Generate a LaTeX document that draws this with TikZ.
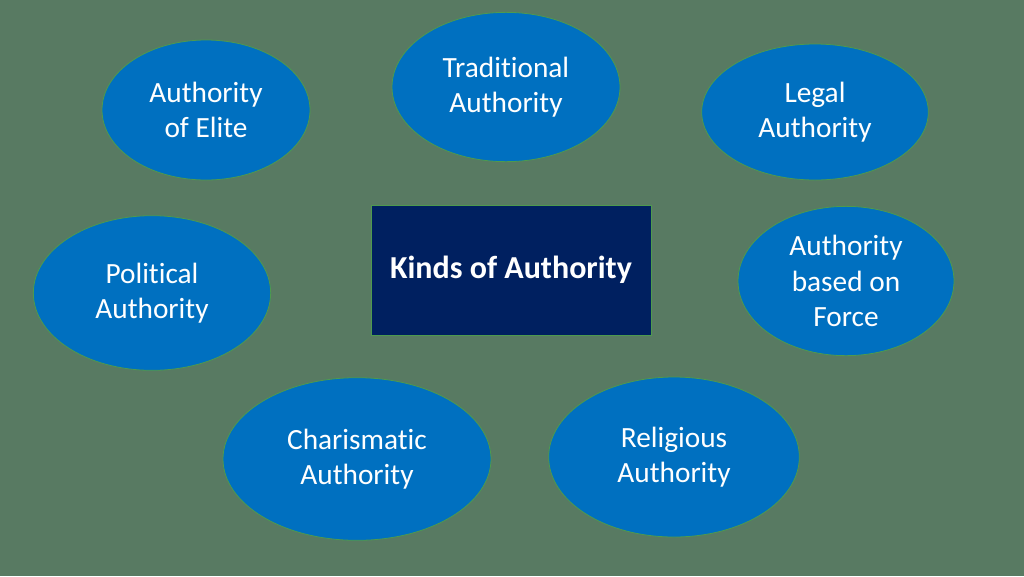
\documentclass[tikz,border=0pt]{standalone}
\usepackage{fontspec}
\setmainfont[Ligatures=NoCommon]{Carlito}
\usetikzlibrary{shapes.geometric}
\definecolor{bg}{HTML}{587A62}
\definecolor{ell}{HTML}{0070C0}
\definecolor{navy}{HTML}{002060}
\definecolor{edge}{HTML}{4E9A4E}
\tikzset{
  oval/.style={ellipse,fill=ell,draw=edge,line width=0.6pt,text=white,align=center,inner sep=0pt,
    font=\fontsize{22}{26.5}\selectfont},
}
\begin{document}
\begin{tikzpicture}[x=0.75pt,y=-0.75pt]
\useasboundingbox (0,0) rectangle (1024,576);
\fill[bg] (0,0) rectangle (1024,576);
\node[oval,minimum width=171pt,minimum height=112pt] (trad) at (506,87) {Traditional\\Authority};
\node[oval,minimum width=156pt,minimum height=105pt] (elite) at (206,110) {Authority\\of Elite};
\node[oval,minimum width=170pt,minimum height=102pt] (legal) at (815,112) {Legal\\Authority};
\node[oval,minimum width=178pt,minimum height=116pt] (pol) at (152,293) {Political\\Authority};
\node[oval,minimum width=162pt,minimum height=112pt] (force) at (846,281) {Authority\\based on\\Force};
\node[oval,minimum width=201pt,minimum height=122pt] (char) at (357,459) {Charismatic\\Authority};
\node[oval,minimum width=188pt,minimum height=120pt] (rel) at (674,457) {Religious\\Authority};
\node[rectangle,fill=navy,draw=edge,line width=0.6pt,text=white,minimum width=210pt,minimum height=97.5pt,
  font=\fontsize{24}{28}\selectfont\bfseries] (kinds) at (511,270) {Kinds of Authority};
\end{tikzpicture}
\end{document}
